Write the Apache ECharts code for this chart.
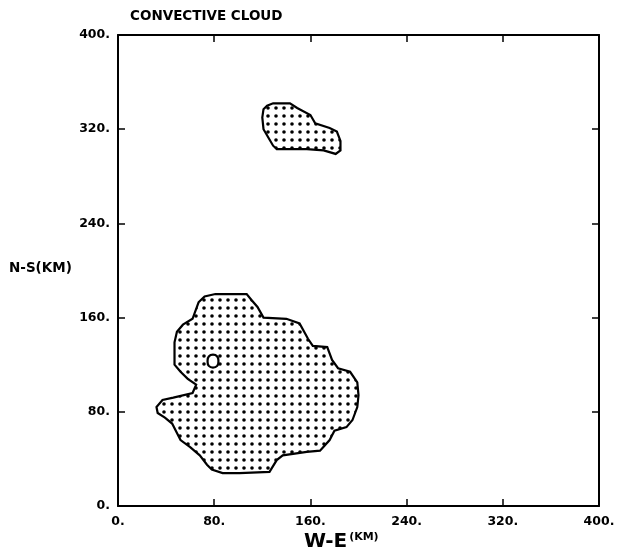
<!DOCTYPE html>
<html>
<head>
<meta charset="utf-8">
<script src="https://cdn.jsdelivr.net/npm/echarts@6/dist/echarts.min.js"></script>
<style>
  html, body { margin: 0; padding: 0; background: #fff; }
  #cloud { width: 628px; height: 556px; }
</style>
</head>
<body>
<div id="cloud"></div>
<script>
// 轴刻度
const tickValues = [0, 80, 160, 240, 320, 400]

// 南侧大云团轮廓 (km)
const bigCloudX = [67, 72, 81, 107, 111, 116, 121, 140, 151, 158, 162, 174, 178, 183, 193, 199, 200, 199, 195, 190, 180, 176, 168, 157, 137, 132, 126, 101, 87, 78, 74, 68, 60, 52, 45, 39, 33, 32, 37, 46, 62, 65, 58, 52, 47, 47, 47, 49, 54, 62]
const bigCloudY = [173, 178, 180, 180, 175, 169, 160, 159, 155, 142, 136, 135, 124, 117, 114, 105, 94, 84, 73, 67, 64, 56, 47, 46, 43, 39, 29, 28, 28, 31, 35, 43, 50, 56, 70, 75, 79, 84, 90, 92, 96, 103, 108, 114, 120, 131, 139, 148, 154, 159]

// 北侧小云团轮廓
const smallCloudX = [121, 124, 129, 143, 149, 160, 164, 176, 182, 185, 185, 181, 171, 157, 132, 129, 125, 121, 120]
const smallCloudY = [337, 340, 342, 342, 338, 332, 325, 321, 318, 310, 302, 299, 302, 303, 303, 306, 313, 320, 330]

// 大云团里的小空洞
const holeX = [74.5, 75.5, 79, 82.5, 83.5, 82.5, 79, 75.5]
const holeY = [123, 127, 128.5, 127, 123, 119, 117.5, 119]

const myChart = echarts.init(document.getElementById('cloud'))

// 点阵填充
const dotCanvas = document.createElement('canvas')
dotCanvas.width = 8
dotCanvas.height = 8
const ctx = dotCanvas.getContext('2d')
ctx.fillStyle = '#fff'
ctx.fillRect(0, 0, 8, 8)
ctx.fillStyle = '#000'
ctx.beginPath()
ctx.arc(4, 4, 1.8, 0, Math.PI * 2)
ctx.fill()
const dotPattern = { image: dotCanvas, repeat: 'repeat' }

const shapeSeries = (xs, ys, fill, smooth) => ({
  type: 'custom',
  xAxisIndex: 0,
  yAxisIndex: 0,
  data: [[xs[0], ys[0]]],
  silent: true,
  renderItem: (params, api) => {
    const pts = xs.map((x, i) => api.coord([x, ys[i]]))
    return {
      type: 'polygon',
      shape: { points: pts, smooth: smooth },
      style: { fill: fill, stroke: '#000', lineWidth: 2.2 }
    }
  }
})

const font = 'DejaVu Sans'
const labelStyle = { color: '#000', fontFamily: font, fontWeight: 'bold', fontSize: 12.5 }
const lineStyle = { show: true, onZero: false, lineStyle: { color: '#000', width: 2 } }
const tickStyle = { show: true, inside: true, length: 7, lineStyle: { color: '#000', width: 1.5 } }

const option = {
  backgroundColor: '#fff',
  animation: false,
  grid: { left: 118, right: 29, top: 35, bottom: 50 },
  xAxis: [
    {
      type: 'value', min: 0, max: 400, interval: 80, position: 'bottom',
      axisLine: lineStyle,
      axisTick: tickStyle,
      axisLabel: Object.assign({ margin: 9, formatter: v => tickValues.indexOf(v) >= 0 ? v + '.' : '' }, labelStyle),
      splitLine: { show: false }
    },
    {
      type: 'value', min: 0, max: 400, interval: 80, position: 'top',
      axisLine: lineStyle,
      axisTick: tickStyle,
      axisLabel: { show: false },
      splitLine: { show: false }
    }
  ],
  yAxis: [
    {
      type: 'value', min: 0, max: 400, interval: 80, position: 'left',
      axisLine: lineStyle,
      axisTick: tickStyle,
      axisLabel: Object.assign({ margin: 8, formatter: v => v + '.' }, labelStyle),
      splitLine: { show: false }
    },
    {
      type: 'value', min: 0, max: 400, interval: 80, position: 'right',
      axisLine: lineStyle,
      axisTick: tickStyle,
      axisLabel: { show: false },
      splitLine: { show: false }
    }
  ],
  graphic: [
    {
      type: 'text', left: 130, top: 9,
      style: { text: 'CONVECTIVE CLOUD', fill: '#000', font: 'bold 13.5px ' + font }
    },
    {
      type: 'text', left: 9, top: 261,
      style: { text: 'N-S(KM)', fill: '#000', font: 'bold 13.5px ' + font }
    },
    {
      type: 'text', left: 304, top: 532,
      style: {
        text: '{a|W-E}{b|(KM)}',
        rich: {
          a: { fill: '#000', fontFamily: font, fontWeight: 'bold', fontSize: 20, verticalAlign: 'bottom' },
          b: { fill: '#000', fontFamily: font, fontWeight: 'bold', fontSize: 11, verticalAlign: 'top', padding: [0, 0, 8, 2] }
        }
      }
    }
  ],
  series: [
    shapeSeries(bigCloudX, bigCloudY, dotPattern, 0),
    shapeSeries(smallCloudX, smallCloudY, dotPattern, 0),
    shapeSeries(holeX, holeY, '#fff', 0.5)
  ]
}
myChart.setOption(option)
</script>
</body>
</html>
